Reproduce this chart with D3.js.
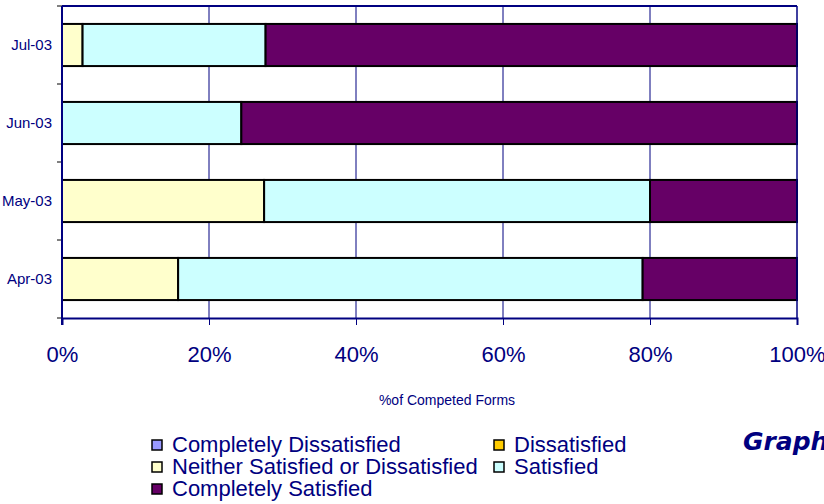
<!DOCTYPE html>
<html>
<head>
<meta charset="utf-8">
<script src="https://cdn.jsdelivr.net/npm/d3@7"></script>
<style>
  html, body { margin: 0; padding: 0; background: #fff; overflow: hidden; }
  svg { display: block; font-family: Arial, "Liberation Sans", sans-serif; }
</style>
</head>
<body>
<svg id="chart" width="824" height="504"></svg>
<script>
// Months, top row first
const months = ["Jul-03", "Jun-03", "May-03", "Apr-03"];

// Share of completed forms per response (percent), same order as months
const completelyDissatisfied = [0, 0, 0, 0];
const dissatisfied = [0, 0, 0, 0];
const neither = [2.8, 0, 27.5, 15.8];
const satisfied = [24.9, 24.4, 52.5, 63.2];
const completelySatisfied = [72.3, 75.6, 20.0, 21.0];

const seriesNames = [
  "Completely Dissatisfied",
  "Dissatisfied",
  "Neither Satisfied or Dissatisfied",
  "Satisfied",
  "Completely Satisfied"
];
const seriesColors = ["#9999FF", "#FFCC00", "#FFFFCC", "#CCFFFF", "#660066"];
const xTicks = [0, 20, 40, 60, 80, 100];
const xTitle = "%of Competed Forms";
const badge = "Graph";

const seriesValues = [completelyDissatisfied, dissatisfied, neither, satisfied, completelySatisfied];
const rows = months.map((m, i) => {
  const r = { month: m };
  seriesNames.forEach((s, j) => { r[s] = seriesValues[j][i]; });
  return r;
});

const navy = "#000080";
const svg = d3.select("#chart");
const plotLeft = 62, plotRight = 797, plotTop = 6, plotBottom = 318;

const x = d3.scaleLinear().domain([0, 100]).range([plotLeft, plotRight]);
const y = d3.scaleBand().domain(months).range([plotTop, plotBottom])
  .paddingInner(0.46).paddingOuter(0.23);

// vertical gridlines
svg.append("g").selectAll("line")
  .data(xTicks.slice(1, -1))
  .join("line")
  .attr("x1", d => x(d)).attr("x2", d => x(d))
  .attr("y1", plotTop).attr("y2", plotBottom)
  .attr("stroke", navy).attr("stroke-width", 1);

// stacked bars
const stack = d3.stack().keys(seriesNames);
const layers = stack(rows);
svg.append("g").selectAll("g")
  .data(layers)
  .join("g")
  .attr("fill", (d, i) => seriesColors[i])
  .selectAll("rect")
  .data(d => d.filter(v => v[1] - v[0] > 0))
  .join("rect")
  .attr("x", d => x(d[0]))
  .attr("width", d => x(d[1]) - x(d[0]))
  .attr("y", d => y(d.data.month))
  .attr("height", y.bandwidth())
  .attr("stroke", "#000")
  .attr("stroke-width", 2);

// frame: top and right edges
svg.append("line").attr("x1", plotLeft).attr("x2", plotRight).attr("y1", plotTop).attr("y2", plotTop)
  .attr("stroke", navy).attr("stroke-width", 2);
svg.append("line").attr("x1", plotRight).attr("x2", plotRight).attr("y1", plotTop).attr("y2", plotBottom)
  .attr("stroke", navy).attr("stroke-width", 1.5);

// x axis
const xAxis = svg.append("g").attr("transform", `translate(0,${plotBottom})`)
  .call(d3.axisBottom(x).tickValues(xTicks).tickFormat(d => d + "%").tickSize(7).tickPadding(21));
xAxis.select(".domain").attr("stroke", navy).attr("stroke-width", 2);
xAxis.selectAll(".tick line").attr("stroke", navy).attr("stroke-width", 1);
xAxis.selectAll(".tick text")
  .attr("fill", navy)
  .style("font-size", "22px")
  .style("font-family", "Arial, 'Liberation Sans', sans-serif")
  .attr("dy", "0.72em");

// y axis: category labels and band boundary ticks
const yAxis = svg.append("g").attr("transform", `translate(${plotLeft},0)`)
  .call(d3.axisLeft(y).tickSize(0).tickPadding(10));
yAxis.select(".domain").remove();
yAxis.selectAll(".tick text")
  .attr("fill", navy)
  .style("font-size", "15px")
  .style("font-family", "Arial, 'Liberation Sans', sans-serif");

const boundaries = d3.range(months.length + 1).map(i => plotTop + i * y.step());
svg.append("g").selectAll("line")
  .data(boundaries)
  .join("line")
  .attr("x1", plotLeft - 5).attr("x2", plotLeft)
  .attr("y1", d => d).attr("y2", d => d)
  .attr("stroke", "#000").attr("stroke-width", 1);
svg.append("line").attr("x1", plotLeft).attr("x2", plotLeft).attr("y1", plotTop).attr("y2", plotBottom + 7)
  .attr("stroke", navy).attr("stroke-width", 2);

// axis title
svg.append("text")
  .attr("x", 447).attr("y", 405)
  .attr("text-anchor", "middle")
  .attr("fill", navy)
  .style("font-size", "14px")
  .text(xTitle);

// legend
const legendPos = [
  [147, 452], [489, 452],
  [147, 474], [489, 474],
  [147, 496]
];
const legend = svg.append("g").selectAll("g")
  .data(seriesNames)
  .join("g")
  .attr("transform", (d, i) => `translate(${legendPos[i][0]},${legendPos[i][1]})`);
legend.append("rect")
  .attr("x", 5).attr("y", -12)
  .attr("width", 10).attr("height", 10)
  .attr("fill", (d, i) => seriesColors[i])
  .attr("stroke", "#000").attr("stroke-width", 1.5);
legend.append("text")
  .attr("x", 25).attr("y", 0)
  .attr("fill", navy)
  .style("font-size", "22px")
  .text(d => d);

// corner badge
svg.append("text")
  .attr("x", 743).attr("y", 450)
  .attr("fill", navy)
  .style("font-family", "'Comic Sans MS', 'DejaVu Sans', sans-serif")
  .style("font-weight", "bold")
  .style("font-style", "italic")
  .style("font-size", "25px")
  .text(badge);
</script>
</body>
</html>
